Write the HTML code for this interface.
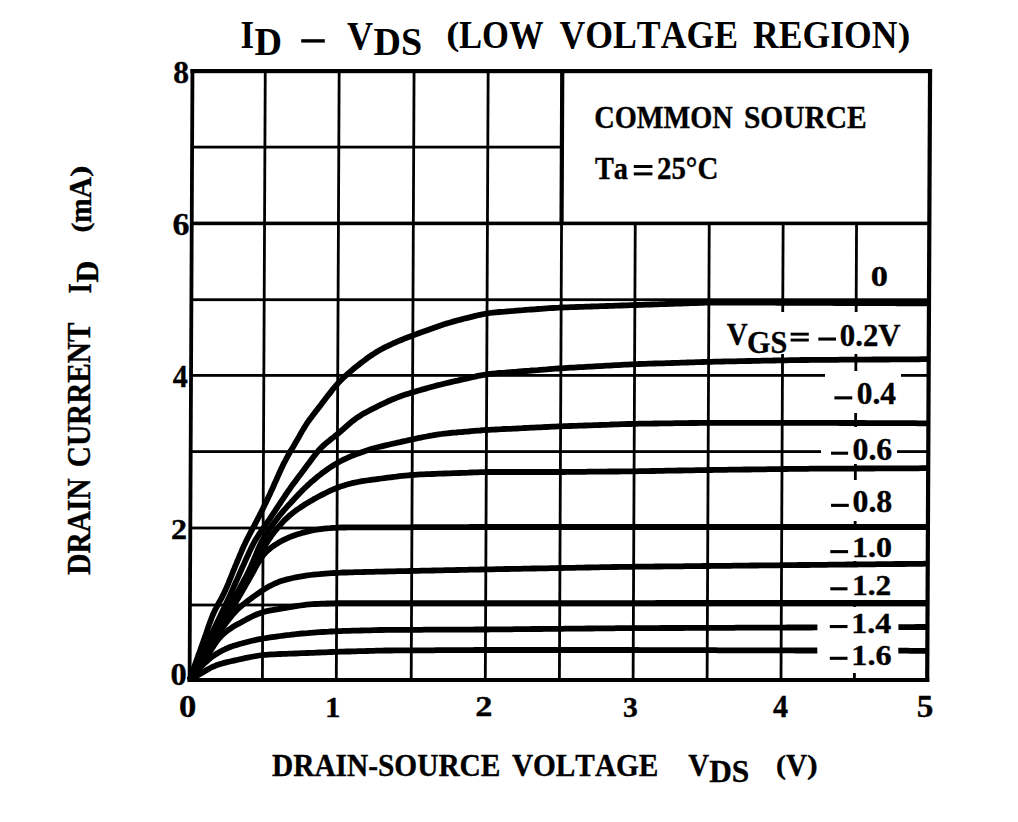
<!DOCTYPE html>
<html><head><meta charset="utf-8"><style>
html,body{margin:0;padding:0;background:#fff;}
svg{display:block;}
text{font-kerning:none;}
</style></head><body>
<svg width="1018" height="822" viewBox="0 0 1018 822">
<defs><clipPath id="plotclip"><rect x="186" y="60" width="742.5" height="622"/></clipPath></defs>
<rect width="1018" height="822" fill="#fff"/>
<path d="M263.86,71.10 L266.66,71.10 L263.80,680.00 L261.00,680.00Z" fill="#000"/>
<path d="M337.76,71.10 L340.56,71.10 L337.70,680.00 L334.90,680.00Z" fill="#000"/>
<path d="M412.66,71.10 L415.46,71.10 L412.60,680.00 L409.80,680.00Z" fill="#000"/>
<path d="M486.76,71.10 L489.56,71.10 L486.70,680.00 L483.90,680.00Z" fill="#000"/>
<path d="M560.86,71.10 L563.66,71.10 L560.80,680.00 L558.00,680.00Z" fill="#000"/>
<path d="M633.85,223.40 L636.65,223.40 L634.50,680.00 L631.70,680.00Z" fill="#000"/>
<path d="M707.85,223.40 L710.65,223.40 L708.50,680.00 L705.70,680.00Z" fill="#000"/>
<path d="M781.75,223.40 L784.55,223.40 L782.40,680.00 L779.60,680.00Z" fill="#000"/>
<path d="M855.15,223.40 L857.95,223.40 L855.80,680.00 L853.00,680.00Z" fill="#000"/>
<path d="M560.16,71.10 L564.36,71.10 L563.65,223.40 L559.45,223.40Z" fill="#000"/>
<rect x="192.10" y="145.70" width="369.80" height="2.80" fill="#000"/>
<rect x="191.75" y="221.60" width="737.60" height="3.60" fill="#000"/>
<rect x="191.39" y="298.30" width="737.60" height="2.80" fill="#000"/>
<rect x="191.03" y="374.00" width="737.60" height="2.80" fill="#000"/>
<rect x="190.67" y="450.20" width="737.60" height="2.80" fill="#000"/>
<rect x="190.31" y="526.60" width="737.60" height="2.80" fill="#000"/>
<rect x="189.95" y="603.60" width="737.60" height="2.80" fill="#000"/>
<rect x="712.00" y="312.00" width="213.00" height="42.00" fill="#fff"/>
<rect x="825.00" y="371.00" width="76.00" height="42.00" fill="#fff"/>
<rect x="821.00" y="427.00" width="76.00" height="37.00" fill="#fff"/>
<rect x="815.00" y="480.00" width="110.00" height="41.00" fill="#fff"/>
<rect x="815.00" y="530.00" width="110.00" height="31.00" fill="#fff"/>
<rect x="815.00" y="567.00" width="110.00" height="33.00" fill="#fff"/>
<rect x="815.00" y="607.00" width="110.00" height="66.00" fill="#fff"/>
<path d="M190.57,69.10 L194.37,69.10 L191.49,682.00 L187.69,682.00Z" fill="#000"/>
<path d="M927.97,69.10 L932.17,69.10 L929.29,682.00 L925.09,682.00Z" fill="#000"/>
<rect x="190.46" y="69.00" width="741.60" height="4.20" fill="#000"/>
<rect x="187.60" y="678.00" width="741.60" height="4.00" fill="#000"/>
<path d="M189.6,680.0 L190.6,677.2 L191.6,674.3 L192.6,671.5 L193.6,668.7 L194.6,665.9 L195.6,663.0 L196.6,660.2 L197.6,657.4 L198.6,654.6 L199.7,651.7 L200.7,648.9 L201.7,646.1 L202.7,643.3 L203.7,640.4 L204.7,637.6 L205.7,634.8 L206.7,631.9 L207.6,629.1 L208.6,626.3 L209.6,623.4 L210.7,620.6 L211.7,617.8 L212.8,615.0 L214.0,612.3 L215.3,609.6 L216.7,607.0 L218.1,604.3 L219.5,601.7 L221.0,599.1 L222.4,596.4 L223.7,593.8 L225.0,591.1 L226.2,588.4 L227.4,585.6 L228.6,582.8 L229.7,580.0 L230.8,577.3 L231.9,574.5 L233.0,571.7 L234.2,568.9 L235.3,566.1 L236.5,563.4 L237.6,560.6 L238.8,557.8 L239.9,555.1 L241.1,552.3 L242.3,549.5 L243.5,546.8 L244.8,544.1 L246.0,541.4 L247.4,538.7 L248.7,536.0 L250.1,533.4 L251.5,530.7 L252.9,528.1 L254.4,525.4 L255.7,522.8 L257.1,520.1 L258.5,517.4 L259.8,514.7 L261.2,512.1 L262.5,509.4 L263.8,506.7 L265.2,504.0 L266.5,501.3 L267.8,498.6 L269.0,495.9 L270.3,493.2 L271.5,490.4 L272.8,487.7 L274.0,485.0 L275.2,482.2 L276.5,479.5 L277.7,476.7 L278.9,474.0 L280.1,471.3 L281.4,468.5 L282.7,465.8 L284.0,463.1 L285.4,460.5 L286.8,457.8 L288.2,455.2 L289.7,452.6 L291.2,450.0 L292.8,447.4 L294.3,444.9 L295.8,442.3 L297.3,439.7 L298.8,437.1 L300.3,434.4 L301.7,431.8 L303.3,429.3 L304.8,426.7 L306.4,424.2 L308.1,421.7 L309.8,419.3 L311.6,416.9 L313.4,414.5 L315.3,412.1 L317.1,409.7 L318.9,407.4 L320.8,405.0 L322.6,402.6 L324.4,400.2 L326.2,397.8 L328.1,395.4 L329.9,393.1 L331.7,390.7 L333.6,388.3 L335.5,386.1 L337.5,383.8 L339.5,381.6 L341.6,379.5 L343.8,377.4 L346.0,375.4 L348.2,373.4 L350.5,371.4 L352.8,369.5 L355.1,367.6 L357.5,365.7 L359.8,363.9 L362.2,362.0 L364.6,360.2 L367.0,358.4 L369.4,356.7 L371.9,355.0 L374.4,353.4 L376.9,351.8 L379.5,350.3 L382.2,348.8 L384.8,347.4 L387.5,346.1 L390.2,344.8 L392.9,343.5 L395.6,342.3 L398.4,341.1 L401.2,340.0 L403.9,338.9 L406.7,337.8 L409.5,336.7 L412.4,335.6 L415.2,334.6 L418.0,333.5 L420.8,332.5 L423.6,331.5 L426.5,330.5 L429.3,329.5 L432.1,328.5 L434.9,327.5 L437.8,326.5 L440.6,325.5 L443.4,324.6 L446.3,323.6 L449.2,322.8 L452.0,321.9 L454.9,321.1 L457.8,320.3 L460.7,319.6 L463.6,318.8 L466.5,318.1 L469.5,317.4 L472.4,316.6 L475.3,315.9 L478.2,315.2 L481.1,314.6 L484.0,314.0 L487.0,313.4 L489.9,313.0 L492.9,312.6 L495.9,312.3 L498.9,312.0 L501.9,311.8 L504.9,311.6 L507.8,311.3 L510.8,311.1 L513.8,310.9 L516.8,310.6 L519.8,310.4 L522.8,310.2 L525.8,309.9 L528.8,309.7 L531.8,309.5 L534.8,309.3 L537.8,309.0 L540.8,308.8 L543.8,308.6 L546.7,308.4 L549.7,308.2 L552.7,308.0 L555.7,307.8 L558.7,307.7 L561.7,307.5 L564.7,307.4 L567.7,307.3 L570.7,307.2 L573.7,307.1 L576.7,307.0 L579.7,306.9 L582.7,306.8 L585.7,306.7 L588.7,306.6 L591.7,306.5 L594.7,306.4 L597.7,306.3 L600.7,306.2 L603.7,306.1 L606.7,306.0 L609.7,305.9 L612.7,305.8 L615.7,305.7 L618.7,305.6 L621.7,305.5 L624.7,305.4 L627.7,305.3 L630.7,305.2 L633.7,305.1 L636.7,305.0 L639.7,304.9 L642.7,304.8 L645.7,304.7 L648.7,304.6 L651.7,304.5 L654.7,304.4 L657.7,304.3 L660.7,304.2 L663.7,304.1 L666.7,304.0 L669.7,303.9 L672.7,303.8 L675.7,303.7 L678.6,303.6 L681.6,303.5 L684.6,303.4 L687.6,303.3 L690.6,303.2 L693.6,303.1 L696.6,303.0 L699.6,302.9 L702.6,302.8 L705.6,302.7 L708.6,302.7 L711.6,302.6 L714.6,302.6 L717.6,302.6 L720.6,302.6 L723.6,302.6 L726.6,302.6 L729.6,302.6 L732.6,302.6 L735.6,302.7 L738.6,302.7 L741.6,302.7 L744.6,302.7 L747.6,302.7 L750.6,302.7 L753.6,302.7 L756.6,302.7 L759.6,302.7 L762.6,302.7 L765.6,302.7 L768.6,302.7 L771.6,302.7 L774.6,302.7 L777.6,302.8 L780.6,302.8 L783.6,302.8 L786.6,302.8 L789.6,302.8 L792.6,302.8 L795.6,302.8 L798.6,302.8 L801.6,302.8 L804.6,302.8 L807.6,302.8 L810.6,302.8 L813.6,302.9 L816.6,302.9 L819.6,302.9 L822.6,302.9 L825.6,302.9 L828.6,302.9 L831.6,302.9 L834.6,303.0 L837.6,303.0 L840.6,303.0 L843.6,303.0 L846.6,303.0 L849.6,303.0 L852.6,303.0 L855.6,303.1 L858.6,303.1 L861.6,303.1 L864.6,303.1 L867.6,303.1 L870.6,303.1 L873.6,303.1 L876.6,303.2 L879.6,303.2 L882.6,303.2 L885.6,303.2 L888.6,303.2 L891.6,303.2 L894.6,303.2 L897.6,303.3 L900.6,303.3 L903.6,303.3 L906.6,303.3 L909.6,303.3 L912.6,303.3 L915.6,303.3 L918.6,303.4 L921.6,303.4 L924.6,303.4 L927.6,303.4 L928.6,303.4" fill="none" stroke="#000" stroke-width="5.8" stroke-linejoin="round" stroke-linecap="butt" clip-path="url(#plotclip)"/>
<path d="M189.6,680.0 L190.9,677.3 L192.2,674.6 L193.5,671.9 L194.8,669.2 L196.1,666.5 L197.4,663.8 L198.7,661.1 L200.0,658.3 L201.2,655.6 L202.5,652.9 L203.8,650.2 L205.1,647.5 L206.4,644.8 L207.7,642.1 L209.0,639.4 L210.3,636.7 L211.6,634.0 L212.9,631.3 L214.2,628.6 L215.5,625.9 L216.8,623.2 L218.1,620.5 L219.4,617.8 L220.7,615.0 L222.0,612.3 L223.3,609.6 L224.6,606.9 L225.8,604.2 L227.1,601.5 L228.4,598.8 L229.7,596.1 L230.9,593.3 L232.1,590.6 L233.3,587.9 L234.5,585.1 L235.7,582.4 L237.0,579.6 L238.2,576.9 L239.4,574.1 L240.6,571.4 L241.8,568.6 L243.0,565.9 L244.3,563.2 L245.5,560.4 L246.7,557.7 L248.0,555.0 L249.2,552.2 L250.5,549.5 L251.8,546.8 L253.2,544.2 L254.6,541.5 L256.1,539.0 L257.7,536.4 L259.3,533.9 L261.0,531.4 L262.7,529.0 L264.4,526.5 L266.1,524.0 L267.9,521.6 L269.6,519.1 L271.2,516.6 L272.9,514.1 L274.6,511.6 L276.2,509.1 L277.8,506.6 L279.5,504.1 L281.1,501.6 L282.8,499.1 L284.5,496.6 L286.1,494.1 L287.8,491.6 L289.6,489.2 L291.3,486.7 L293.0,484.3 L294.8,481.9 L296.6,479.5 L298.4,477.0 L300.2,474.7 L302.0,472.3 L303.8,469.9 L305.6,467.5 L307.4,465.1 L309.2,462.7 L311.0,460.2 L312.8,457.8 L314.6,455.4 L316.4,453.1 L318.3,450.8 L320.3,448.6 L322.4,446.5 L324.6,444.5 L326.9,442.6 L329.2,440.7 L331.5,438.8 L333.9,437.0 L336.2,435.1 L338.5,433.2 L340.8,431.2 L343.1,429.2 L345.3,427.3 L347.6,425.3 L349.9,423.3 L352.1,421.4 L354.5,419.6 L356.9,417.8 L359.4,416.2 L361.9,414.6 L364.5,413.1 L367.2,411.7 L369.8,410.3 L372.5,408.9 L375.2,407.6 L377.8,406.2 L380.5,404.9 L383.2,403.6 L385.9,402.3 L388.7,401.0 L391.4,399.8 L394.2,398.7 L396.9,397.6 L399.8,396.5 L402.6,395.5 L405.4,394.6 L408.3,393.7 L411.2,392.8 L414.0,391.9 L416.9,391.1 L419.8,390.2 L422.7,389.4 L425.6,388.6 L428.4,387.8 L431.3,387.0 L434.2,386.2 L437.1,385.4 L440.0,384.7 L443.0,384.0 L445.9,383.3 L448.8,382.6 L451.7,381.9 L454.6,381.2 L457.6,380.6 L460.5,379.9 L463.4,379.2 L466.3,378.6 L469.3,377.9 L472.2,377.2 L475.1,376.6 L478.0,375.9 L481.0,375.3 L483.9,374.8 L486.9,374.3 L489.8,373.9 L492.8,373.6 L495.8,373.3 L498.8,373.0 L501.8,372.8 L504.8,372.6 L507.8,372.3 L510.8,372.1 L513.7,371.9 L516.7,371.7 L519.7,371.4 L522.7,371.2 L525.7,371.0 L528.7,370.8 L531.7,370.5 L534.7,370.3 L537.7,370.1 L540.7,369.8 L543.7,369.6 L546.6,369.4 L549.6,369.1 L552.6,368.9 L555.6,368.7 L558.6,368.5 L561.6,368.3 L564.6,368.1 L567.6,367.9 L570.6,367.7 L573.6,367.6 L576.6,367.4 L579.6,367.2 L582.6,367.1 L585.6,366.9 L588.6,366.7 L591.6,366.6 L594.6,366.4 L597.6,366.2 L600.5,366.1 L603.5,365.9 L606.5,365.7 L609.5,365.6 L612.5,365.4 L615.5,365.2 L618.5,365.1 L621.5,364.9 L624.5,364.7 L627.5,364.6 L630.5,364.4 L633.5,364.3 L636.5,364.2 L639.5,364.0 L642.5,363.9 L645.5,363.8 L648.5,363.7 L651.5,363.6 L654.5,363.5 L657.5,363.4 L660.5,363.3 L663.5,363.3 L666.5,363.2 L669.5,363.1 L672.5,363.0 L675.5,362.9 L678.5,362.8 L681.5,362.7 L684.5,362.6 L687.5,362.5 L690.5,362.4 L693.5,362.3 L696.5,362.2 L699.5,362.1 L702.5,362.0 L705.5,361.9 L708.5,361.8 L711.5,361.8 L714.5,361.7 L717.5,361.6 L720.5,361.6 L723.5,361.5 L726.5,361.4 L729.5,361.4 L732.5,361.3 L735.4,361.3 L738.4,361.2 L741.4,361.2 L744.4,361.1 L747.4,361.0 L750.4,361.0 L753.4,360.9 L756.4,360.9 L759.4,360.8 L762.4,360.7 L765.4,360.7 L768.4,360.6 L771.4,360.6 L774.4,360.5 L777.4,360.4 L780.4,360.4 L783.4,360.3 L786.4,360.3 L789.4,360.2 L792.4,360.1 L795.4,360.1 L798.4,360.1 L801.4,360.0 L804.4,360.0 L807.4,360.0 L810.4,359.9 L813.4,359.9 L816.4,359.9 L819.4,359.9 L822.4,359.9 L825.4,359.8 L828.4,359.8 L831.4,359.8 L834.4,359.8 L837.4,359.8 L840.4,359.7 L843.4,359.7 L846.4,359.7 L849.4,359.7 L852.4,359.7 L855.4,359.7 L858.4,359.6 L861.4,359.6 L864.4,359.6 L867.4,359.6 L870.4,359.6 L873.4,359.5 L876.4,359.5 L879.4,359.5 L882.4,359.5 L885.4,359.5 L888.4,359.5 L891.4,359.4 L894.4,359.4 L897.4,359.4 L900.4,359.4 L903.4,359.4 L906.4,359.3 L909.4,359.3 L912.4,359.3 L915.4,359.3 L918.4,359.3 L921.4,359.2 L924.4,359.2 L927.4,359.2 L928.4,359.2" fill="none" stroke="#000" stroke-width="5.8" stroke-linejoin="round" stroke-linecap="butt" clip-path="url(#plotclip)"/>
<path d="M189.6,680.0 L191.0,677.4 L192.5,674.7 L193.9,672.1 L195.3,669.5 L196.8,666.8 L198.2,664.2 L199.7,661.6 L201.1,658.9 L202.5,656.3 L204.0,653.7 L205.4,651.0 L206.8,648.4 L208.3,645.8 L209.7,643.1 L211.2,640.5 L212.6,637.9 L214.0,635.2 L215.5,632.6 L216.9,630.0 L218.3,627.3 L219.8,624.7 L221.2,622.1 L222.7,619.4 L224.1,616.8 L225.5,614.2 L227.0,611.5 L228.4,608.9 L229.9,606.3 L231.3,603.6 L232.7,601.0 L234.2,598.4 L235.6,595.7 L237.0,593.1 L238.5,590.5 L239.9,587.8 L241.3,585.2 L242.8,582.6 L244.2,579.9 L245.6,577.3 L247.0,574.6 L248.3,571.9 L249.6,569.2 L250.9,566.5 L252.1,563.8 L253.3,561.0 L254.4,558.2 L255.6,555.5 L256.7,552.7 L257.8,549.9 L259.0,547.2 L260.3,544.5 L261.6,541.8 L263.1,539.2 L264.6,536.6 L266.2,534.1 L267.8,531.6 L269.5,529.1 L271.2,526.6 L273.0,524.2 L274.8,521.8 L276.6,519.4 L278.4,517.0 L280.3,514.7 L282.2,512.4 L284.1,510.1 L286.1,507.9 L288.1,505.6 L290.2,503.4 L292.2,501.2 L294.2,499.0 L296.3,496.8 L298.3,494.6 L300.4,492.5 L302.5,490.3 L304.6,488.2 L306.8,486.2 L309.0,484.1 L311.2,482.1 L313.5,480.2 L315.8,478.2 L318.1,476.3 L320.5,474.5 L322.8,472.6 L325.3,470.8 L327.7,469.1 L330.2,467.4 L332.7,465.8 L335.2,464.2 L337.8,462.7 L340.4,461.3 L343.1,459.9 L345.8,458.6 L348.5,457.4 L351.3,456.2 L354.1,455.0 L356.8,453.9 L359.7,452.9 L362.5,451.9 L365.3,450.9 L368.2,450.0 L371.0,449.1 L373.9,448.3 L376.8,447.5 L379.7,446.8 L382.6,446.1 L385.6,445.4 L388.5,444.7 L391.4,444.0 L394.3,443.4 L397.3,442.7 L400.2,442.1 L403.1,441.4 L406.0,440.8 L409.0,440.1 L411.9,439.5 L414.8,438.9 L417.8,438.2 L420.7,437.6 L423.7,437.0 L426.6,436.5 L429.6,435.9 L432.5,435.4 L435.5,434.8 L438.4,434.4 L441.4,434.0 L444.4,433.6 L447.3,433.3 L450.3,433.0 L453.3,432.7 L456.3,432.5 L459.3,432.2 L462.3,432.0 L465.3,431.7 L468.3,431.5 L471.2,431.2 L474.2,430.9 L477.2,430.7 L480.2,430.5 L483.2,430.2 L486.2,430.0 L489.2,429.8 L492.2,429.6 L495.2,429.5 L498.2,429.3 L501.2,429.2 L504.2,429.0 L507.2,428.9 L510.2,428.8 L513.2,428.6 L516.2,428.5 L519.2,428.3 L522.1,428.2 L525.1,428.0 L528.1,427.9 L531.1,427.7 L534.1,427.6 L537.1,427.4 L540.1,427.3 L543.1,427.1 L546.1,427.0 L549.1,426.9 L552.1,426.7 L555.1,426.6 L558.1,426.4 L561.1,426.3 L564.1,426.2 L567.1,426.1 L570.1,426.0 L573.1,425.9 L576.1,425.8 L579.1,425.7 L582.1,425.6 L585.1,425.5 L588.1,425.4 L591.1,425.3 L594.1,425.2 L597.1,425.1 L600.1,425.0 L603.1,424.9 L606.1,424.8 L609.1,424.7 L612.1,424.5 L615.1,424.4 L618.1,424.3 L621.1,424.2 L624.1,424.1 L627.1,424.0 L630.1,424.0 L633.1,423.9 L636.1,423.8 L639.1,423.7 L642.1,423.7 L645.1,423.6 L648.1,423.6 L651.1,423.6 L654.1,423.5 L657.1,423.5 L660.1,423.4 L663.1,423.4 L666.1,423.4 L669.1,423.3 L672.1,423.3 L675.1,423.2 L678.1,423.2 L681.1,423.2 L684.1,423.1 L687.1,423.1 L690.1,423.0 L693.1,423.0 L696.1,423.0 L699.1,422.9 L702.1,422.9 L705.1,422.9 L708.1,422.8 L711.1,422.8 L714.1,422.8 L717.1,422.8 L720.1,422.8 L723.1,422.8 L726.1,422.8 L729.1,422.8 L732.1,422.8 L735.1,422.8 L738.1,422.8 L741.1,422.8 L744.1,422.8 L747.1,422.8 L750.1,422.8 L753.1,422.8 L756.1,422.8 L759.1,422.8 L762.1,422.8 L765.1,422.8 L768.1,422.8 L771.1,422.8 L774.1,422.8 L777.1,422.8 L780.1,422.8 L783.1,422.8 L786.1,422.8 L789.1,422.8 L792.1,422.8 L795.1,422.8 L798.1,422.8 L801.1,422.8 L804.1,422.8 L807.1,422.8 L810.1,422.8 L813.1,422.8 L816.1,422.9 L819.1,422.9 L822.1,422.9 L825.1,422.9 L828.1,422.9 L831.1,422.9 L834.1,422.9 L837.1,422.9 L840.1,423.0 L843.1,423.0 L846.1,423.0 L849.1,423.0 L852.1,423.0 L855.1,423.0 L858.1,423.0 L861.1,423.0 L864.1,423.0 L867.1,423.1 L870.1,423.1 L873.1,423.1 L876.1,423.1 L879.1,423.1 L882.1,423.1 L885.1,423.1 L888.1,423.1 L891.1,423.2 L894.1,423.2 L897.1,423.2 L900.1,423.2 L903.1,423.2 L906.1,423.2 L909.1,423.2 L912.1,423.2 L915.1,423.2 L918.1,423.3 L921.1,423.3 L924.1,423.3 L927.1,423.3 L928.1,423.3" fill="none" stroke="#000" stroke-width="5.8" stroke-linejoin="round" stroke-linecap="butt" clip-path="url(#plotclip)"/>
<path d="M189.6,680.0 L191.1,677.4 L192.6,674.8 L194.1,672.2 L195.6,669.6 L197.1,667.0 L198.6,664.4 L200.2,661.8 L201.7,659.2 L203.2,656.7 L204.7,654.1 L206.2,651.5 L207.7,648.9 L209.2,646.3 L210.7,643.7 L212.2,641.1 L213.7,638.5 L215.2,635.9 L216.7,633.3 L218.2,630.7 L219.7,628.1 L221.3,625.5 L222.8,622.9 L224.3,620.3 L225.8,617.8 L227.3,615.2 L228.8,612.6 L230.3,610.0 L231.8,607.4 L233.3,604.8 L234.8,602.2 L236.3,599.6 L237.8,597.0 L239.3,594.4 L240.7,591.7 L242.2,589.1 L243.6,586.5 L245.0,583.8 L246.5,581.2 L247.9,578.6 L249.3,575.9 L250.7,573.3 L252.1,570.6 L253.5,568.0 L254.9,565.3 L256.3,562.6 L257.6,560.0 L259.0,557.3 L260.4,554.6 L261.7,551.9 L263.1,549.3 L264.5,546.6 L266.0,544.1 L267.6,541.5 L269.2,539.0 L270.9,536.5 L272.7,534.1 L274.5,531.8 L276.4,529.4 L278.3,527.1 L280.3,524.8 L282.3,522.6 L284.3,520.4 L286.5,518.3 L288.7,516.3 L290.9,514.4 L293.3,512.5 L295.7,510.7 L298.1,509.0 L300.6,507.3 L303.1,505.7 L305.6,504.0 L308.2,502.5 L310.8,500.9 L313.4,499.4 L316.0,498.0 L318.6,496.5 L321.3,495.1 L323.9,493.8 L326.6,492.5 L329.3,491.2 L332.1,489.9 L334.8,488.8 L337.6,487.7 L340.4,486.6 L343.3,485.7 L346.1,484.8 L349.0,484.0 L351.9,483.2 L354.8,482.6 L357.8,482.0 L360.7,481.4 L363.7,480.9 L366.6,480.5 L369.6,480.1 L372.6,479.7 L375.6,479.3 L378.5,478.9 L381.5,478.5 L384.5,478.1 L387.5,477.7 L390.4,477.3 L393.4,477.0 L396.4,476.6 L399.4,476.2 L402.3,475.9 L405.3,475.6 L408.3,475.3 L411.3,475.0 L414.3,474.8 L417.3,474.6 L420.3,474.4 L423.3,474.3 L426.3,474.2 L429.3,474.1 L432.3,474.0 L435.3,473.9 L438.3,473.7 L441.3,473.6 L444.3,473.5 L447.3,473.4 L450.2,473.3 L453.2,473.2 L456.2,473.1 L459.2,473.0 L462.2,472.9 L465.2,472.8 L468.2,472.7 L471.2,472.5 L474.2,472.4 L477.2,472.3 L480.2,472.2 L483.2,472.2 L486.2,472.1 L489.2,472.0 L492.2,472.0 L495.2,472.0 L498.2,472.0 L501.2,472.0 L504.2,472.0 L507.2,472.0 L510.2,472.0 L513.2,472.0 L516.2,472.0 L519.2,472.0 L522.2,472.0 L525.2,472.0 L528.2,472.0 L531.2,472.0 L534.2,472.0 L537.2,472.0 L540.2,472.0 L543.2,472.0 L546.2,472.0 L549.2,472.0 L552.2,472.0 L555.2,472.0 L558.2,472.0 L561.2,472.0 L564.2,472.0 L567.2,471.9 L570.2,471.9 L573.2,471.9 L576.2,471.9 L579.2,471.8 L582.2,471.8 L585.2,471.8 L588.2,471.7 L591.2,471.7 L594.2,471.7 L597.2,471.7 L600.2,471.6 L603.2,471.6 L606.2,471.6 L609.2,471.5 L612.2,471.5 L615.2,471.5 L618.2,471.5 L621.2,471.4 L624.2,471.4 L627.2,471.4 L630.2,471.3 L633.2,471.3 L636.2,471.3 L639.2,471.2 L642.2,471.2 L645.2,471.1 L648.2,471.1 L651.2,471.0 L654.2,471.0 L657.2,470.9 L660.2,470.8 L663.2,470.8 L666.2,470.7 L669.2,470.7 L672.2,470.6 L675.2,470.6 L678.2,470.5 L681.2,470.5 L684.2,470.4 L687.2,470.4 L690.2,470.3 L693.2,470.3 L696.2,470.2 L699.2,470.2 L702.2,470.1 L705.2,470.1 L708.2,470.0 L711.2,470.0 L714.2,469.9 L717.2,469.9 L720.2,469.8 L723.2,469.8 L726.2,469.8 L729.2,469.7 L732.2,469.7 L735.2,469.6 L738.2,469.6 L741.2,469.6 L744.2,469.5 L747.2,469.5 L750.2,469.5 L753.2,469.4 L756.2,469.4 L759.2,469.3 L762.2,469.3 L765.2,469.3 L768.2,469.2 L771.2,469.2 L774.2,469.1 L777.2,469.1 L780.2,469.1 L783.2,469.0 L786.2,469.0 L789.2,468.9 L792.2,468.9 L795.2,468.9 L798.2,468.8 L801.2,468.8 L804.2,468.8 L807.2,468.8 L810.2,468.7 L813.2,468.7 L816.2,468.7 L819.2,468.7 L822.2,468.7 L825.2,468.7 L828.2,468.7 L831.2,468.7 L834.2,468.6 L837.2,468.6 L840.2,468.6 L843.2,468.6 L846.2,468.6 L849.2,468.6 L852.2,468.6 L855.2,468.5 L858.2,468.5 L861.2,468.5 L864.2,468.5 L867.2,468.5 L870.2,468.5 L873.2,468.5 L876.2,468.4 L879.2,468.4 L882.2,468.4 L885.2,468.4 L888.2,468.4 L891.2,468.4 L894.2,468.4 L897.2,468.3 L900.2,468.3 L903.2,468.3 L906.2,468.3 L909.2,468.3 L912.2,468.3 L915.2,468.3 L918.2,468.3 L921.2,468.2 L924.2,468.2 L927.2,468.2 L928.2,468.2" fill="none" stroke="#000" stroke-width="5.8" stroke-linejoin="round" stroke-linecap="butt" clip-path="url(#plotclip)"/>
<path d="M189.6,680.0 L191.1,677.4 L192.7,674.8 L194.2,672.3 L195.7,669.7 L197.3,667.1 L198.8,664.5 L200.3,661.9 L201.8,659.4 L203.4,656.8 L204.9,654.2 L206.4,651.6 L208.0,649.0 L209.5,646.5 L211.0,643.9 L212.6,641.3 L214.1,638.7 L215.6,636.1 L217.1,633.6 L218.7,631.0 L220.2,628.4 L221.7,625.8 L223.3,623.2 L224.8,620.6 L226.3,618.1 L227.9,615.5 L229.4,612.9 L230.9,610.3 L232.4,607.7 L234.0,605.2 L235.5,602.6 L237.0,600.0 L238.6,597.4 L240.1,594.8 L241.6,592.2 L243.1,589.6 L244.6,587.0 L246.1,584.4 L247.6,581.8 L249.1,579.2 L250.5,576.6 L252.0,574.0 L253.5,571.3 L254.9,568.7 L256.3,566.1 L257.8,563.4 L259.3,560.9 L260.9,558.4 L262.6,556.0 L264.5,553.7 L266.5,551.6 L268.7,549.6 L271.0,547.8 L273.4,546.0 L275.9,544.4 L278.4,542.8 L281.0,541.3 L283.7,539.9 L286.4,538.6 L289.1,537.4 L291.9,536.3 L294.7,535.3 L297.6,534.3 L300.4,533.5 L303.3,532.6 L306.2,531.9 L309.1,531.2 L312.0,530.5 L315.0,530.0 L317.9,529.5 L320.9,529.1 L323.9,528.7 L326.9,528.4 L329.8,528.2 L332.8,527.9 L335.8,527.8 L338.8,527.6 L341.8,527.5 L344.8,527.5 L347.8,527.4 L350.8,527.4 L353.8,527.4 L356.8,527.4 L359.8,527.4 L362.8,527.4 L365.8,527.4 L368.8,527.4 L371.8,527.4 L374.8,527.4 L377.8,527.4 L380.8,527.4 L383.8,527.3 L386.8,527.3 L389.8,527.3 L392.8,527.3 L395.8,527.3 L398.8,527.3 L401.8,527.3 L404.8,527.3 L407.8,527.3 L410.8,527.3 L413.8,527.2 L416.8,527.2 L419.8,527.2 L422.8,527.2 L425.8,527.2 L428.8,527.2 L431.8,527.2 L434.8,527.2 L437.8,527.2 L440.8,527.1 L443.8,527.1 L446.8,527.1 L449.8,527.1 L452.8,527.1 L455.8,527.1 L458.8,527.1 L461.8,527.1 L464.8,527.1 L467.8,527.1 L470.8,527.0 L473.8,527.0 L476.8,527.0 L479.8,527.0 L482.8,527.0 L485.8,527.0 L488.8,527.0 L491.8,527.0 L494.8,527.0 L497.8,527.0 L500.8,527.0 L503.8,527.0 L506.8,527.0 L509.8,527.0 L512.8,527.0 L515.8,527.0 L518.8,527.0 L521.8,527.0 L524.8,527.0 L527.8,527.0 L530.8,527.0 L533.8,527.0 L536.8,527.0 L539.8,527.0 L542.8,527.0 L545.8,527.0 L548.8,527.0 L551.8,527.0 L554.8,527.0 L557.8,527.0 L560.8,527.0 L563.8,527.0 L566.8,527.0 L569.8,527.0 L572.8,527.0 L575.8,527.0 L578.8,527.0 L581.8,527.0 L584.8,527.0 L587.8,527.0 L590.8,527.0 L593.8,527.0 L596.8,527.0 L599.8,527.0 L602.8,527.0 L605.8,527.0 L608.8,527.0 L611.8,527.0 L614.8,527.0 L617.8,527.0 L620.8,527.0 L623.8,527.0 L626.8,527.0 L629.8,527.0 L632.8,527.0 L635.8,527.0 L638.8,527.0 L641.8,527.0 L644.8,527.0 L647.8,527.0 L650.8,527.0 L653.8,527.0 L656.8,527.0 L659.8,527.0 L662.8,527.0 L665.8,527.0 L668.8,527.0 L671.8,527.0 L674.8,527.0 L677.8,527.0 L680.8,527.0 L683.8,527.0 L686.8,527.0 L689.8,527.0 L692.8,527.0 L695.8,527.0 L698.8,527.0 L701.8,527.0 L704.8,527.0 L707.8,527.0 L710.8,527.0 L713.8,527.0 L716.8,527.0 L719.8,527.0 L722.8,527.0 L725.8,527.0 L728.8,527.0 L731.8,527.0 L734.8,527.0 L737.8,527.0 L740.8,527.0 L743.8,527.0 L746.8,527.0 L749.8,527.0 L752.8,527.0 L755.8,527.0 L758.8,527.0 L761.8,527.0 L764.8,527.0 L767.8,527.0 L770.8,527.0 L773.8,527.0 L776.8,527.0 L779.8,527.0 L782.8,527.0 L785.8,527.0 L788.8,527.0 L791.8,527.0 L794.8,527.0 L797.8,527.0 L800.8,527.0 L803.8,527.0 L806.8,527.0 L809.8,527.0 L812.8,527.0 L815.8,527.0 L818.8,527.0 L821.8,527.0 L824.8,527.0 L827.8,527.0 L830.8,527.0 L833.8,527.0 L836.8,527.0 L839.8,527.0 L842.8,527.0 L845.8,527.0 L848.8,527.0 L851.8,527.0 L854.8,527.0 L857.8,527.0 L860.8,527.0 L863.8,527.0 L866.8,527.0 L869.8,527.0 L872.8,527.0 L875.8,527.0 L878.8,527.0 L881.8,527.0 L884.8,527.0 L887.8,527.0 L890.8,527.0 L893.8,527.0 L896.8,527.0 L899.8,527.0 L902.8,527.0 L905.8,527.0 L908.8,527.0 L911.8,527.0 L914.8,527.0 L917.8,527.0 L920.8,527.0 L923.8,527.0 L926.8,527.0 L928.8,527.0" fill="none" stroke="#000" stroke-width="5.8" stroke-linejoin="round" stroke-linecap="butt" clip-path="url(#plotclip)"/>
<path d="M189.6,680.0 L191.2,677.4 L192.7,674.9 L194.3,672.3 L195.9,669.8 L197.4,667.2 L199.0,664.6 L200.5,662.1 L202.1,659.5 L203.7,657.0 L205.2,654.4 L206.8,651.8 L208.3,649.3 L209.9,646.7 L211.5,644.1 L213.1,641.6 L214.7,639.1 L216.4,636.6 L218.0,634.1 L219.8,631.7 L221.5,629.2 L223.3,626.8 L225.0,624.4 L226.8,621.9 L228.6,619.6 L230.5,617.2 L232.4,614.9 L234.4,612.7 L236.4,610.5 L238.6,608.4 L240.8,606.5 L243.1,604.6 L245.4,602.7 L247.8,600.9 L250.2,599.1 L252.6,597.3 L255.1,595.5 L257.5,593.8 L260.0,592.1 L262.5,590.4 L265.0,588.8 L267.6,587.3 L270.2,585.8 L272.9,584.5 L275.6,583.2 L278.3,582.1 L281.1,581.1 L284.0,580.2 L286.8,579.4 L289.7,578.7 L292.7,578.0 L295.6,577.4 L298.6,576.8 L301.5,576.3 L304.5,575.8 L307.4,575.4 L310.4,575.0 L313.4,574.6 L316.4,574.3 L319.4,574.1 L322.3,573.8 L325.3,573.6 L328.3,573.4 L331.3,573.2 L334.3,573.0 L337.3,572.8 L340.3,572.7 L343.3,572.5 L346.3,572.5 L349.3,572.4 L352.3,572.3 L355.3,572.2 L358.3,572.2 L361.3,572.1 L364.3,572.0 L367.3,571.9 L370.3,571.9 L373.3,571.8 L376.3,571.7 L379.3,571.6 L382.3,571.6 L385.3,571.5 L388.3,571.4 L391.3,571.4 L394.3,571.3 L397.3,571.2 L400.3,571.2 L403.3,571.1 L406.3,571.1 L409.3,571.0 L412.3,570.9 L415.3,570.9 L418.3,570.8 L421.3,570.7 L424.3,570.7 L427.3,570.6 L430.3,570.6 L433.3,570.5 L436.3,570.4 L439.3,570.4 L442.3,570.3 L445.3,570.2 L448.3,570.2 L451.3,570.1 L454.3,570.1 L457.3,570.0 L460.3,569.9 L463.3,569.9 L466.3,569.8 L469.3,569.7 L472.3,569.7 L475.3,569.6 L478.3,569.6 L481.3,569.5 L484.3,569.4 L487.3,569.4 L490.3,569.3 L493.3,569.3 L496.3,569.2 L499.3,569.1 L502.3,569.1 L505.3,569.0 L508.3,569.0 L511.3,568.9 L514.3,568.9 L517.3,568.8 L520.3,568.8 L523.3,568.7 L526.3,568.6 L529.3,568.6 L532.3,568.5 L535.3,568.5 L538.3,568.4 L541.3,568.4 L544.3,568.3 L547.3,568.3 L550.3,568.2 L553.3,568.1 L556.3,568.1 L559.3,568.0 L562.3,568.0 L565.3,567.9 L568.3,567.9 L571.3,567.8 L574.3,567.8 L577.3,567.7 L580.3,567.6 L583.3,567.6 L586.3,567.5 L589.3,567.5 L592.3,567.4 L595.3,567.4 L598.3,567.3 L601.2,567.2 L604.2,567.2 L607.2,567.1 L610.2,567.1 L613.2,567.0 L616.2,567.0 L619.2,566.9 L622.2,566.9 L625.2,566.8 L628.2,566.8 L631.2,566.8 L634.2,566.7 L637.2,566.7 L640.2,566.7 L643.2,566.7 L646.2,566.6 L649.2,566.6 L652.2,566.6 L655.2,566.5 L658.2,566.5 L661.2,566.5 L664.2,566.4 L667.2,566.4 L670.2,566.4 L673.2,566.3 L676.2,566.3 L679.2,566.3 L682.2,566.3 L685.2,566.2 L688.2,566.2 L691.2,566.2 L694.2,566.1 L697.2,566.1 L700.2,566.1 L703.2,566.0 L706.2,566.0 L709.2,566.0 L712.2,565.9 L715.2,565.9 L718.2,565.9 L721.2,565.9 L724.2,565.8 L727.2,565.8 L730.2,565.8 L733.2,565.7 L736.2,565.7 L739.2,565.7 L742.2,565.6 L745.2,565.6 L748.2,565.6 L751.2,565.5 L754.2,565.5 L757.2,565.5 L760.2,565.4 L763.2,565.4 L766.2,565.4 L769.2,565.4 L772.2,565.3 L775.2,565.3 L778.2,565.3 L781.2,565.2 L784.2,565.2 L787.2,565.2 L790.2,565.1 L793.2,565.1 L796.2,565.1 L799.2,565.0 L802.2,565.0 L805.2,565.0 L808.2,565.0 L811.2,564.9 L814.2,564.9 L817.2,564.9 L820.2,564.8 L823.2,564.8 L826.2,564.8 L829.2,564.7 L832.2,564.7 L835.2,564.7 L838.2,564.6 L841.2,564.6 L844.2,564.6 L847.2,564.5 L850.2,564.5 L853.2,564.5 L856.2,564.5 L859.2,564.4 L862.2,564.4 L865.2,564.4 L868.2,564.3 L871.2,564.3 L874.2,564.3 L877.2,564.2 L880.2,564.2 L883.2,564.2 L886.2,564.1 L889.2,564.1 L892.2,564.1 L895.2,564.0 L898.2,564.0 L901.2,564.0 L904.2,564.0 L907.2,563.9 L910.2,563.9 L913.2,563.9 L916.2,563.8 L919.2,563.8 L922.2,563.8 L925.2,563.7 L928.2,563.7 L928.2,563.7" fill="none" stroke="#000" stroke-width="5.8" stroke-linejoin="round" stroke-linecap="butt" clip-path="url(#plotclip)"/>
<path d="M189.6,680.0 L191.4,677.6 L193.3,675.3 L195.1,672.9 L197.0,670.5 L198.8,668.1 L200.6,665.7 L202.3,663.3 L204.1,660.9 L205.8,658.4 L207.4,655.9 L209.0,653.3 L210.6,650.8 L212.2,648.2 L213.8,645.7 L215.5,643.2 L217.2,640.8 L219.0,638.5 L221.0,636.3 L223.1,634.2 L225.3,632.3 L227.7,630.4 L230.1,628.8 L232.6,627.1 L235.2,625.6 L237.8,624.1 L240.5,622.7 L243.1,621.2 L245.8,619.8 L248.4,618.4 L251.1,617.0 L253.8,615.7 L256.5,614.5 L259.3,613.4 L262.1,612.5 L265.0,611.6 L267.9,610.9 L270.8,610.3 L273.7,609.8 L276.7,609.3 L279.7,608.8 L282.6,608.3 L285.6,607.8 L288.6,607.3 L291.5,606.9 L294.5,606.4 L297.4,605.9 L300.4,605.5 L303.4,605.1 L306.3,604.7 L309.3,604.4 L312.3,604.2 L315.3,604.0 L318.3,603.8 L321.3,603.7 L324.3,603.6 L327.3,603.5 L330.3,603.4 L333.3,603.3 L336.3,603.2 L339.3,603.2 L342.3,603.1 L345.3,603.1 L348.3,603.1 L351.3,603.1 L354.3,603.1 L357.3,603.1 L360.3,603.1 L363.3,603.1 L366.3,603.1 L369.3,603.1 L372.3,603.1 L375.3,603.1 L378.3,603.1 L381.3,603.1 L384.3,603.1 L387.3,603.1 L390.3,603.1 L393.3,603.1 L396.3,603.1 L399.3,603.1 L402.3,603.1 L405.3,603.1 L408.3,603.1 L411.3,603.1 L414.3,603.1 L417.3,603.1 L420.3,603.1 L423.3,603.1 L426.3,603.1 L429.3,603.1 L432.3,603.1 L435.3,603.1 L438.3,603.1 L441.3,603.1 L444.3,603.1 L447.3,603.1 L450.3,603.1 L453.3,603.1 L456.3,603.1 L459.3,603.1 L462.3,603.1 L465.3,603.1 L468.3,603.1 L471.3,603.1 L474.3,603.1 L477.3,603.1 L480.3,603.1 L483.3,603.1 L486.3,603.1 L489.3,603.1 L492.3,603.1 L495.3,603.1 L498.3,603.1 L501.3,603.1 L504.3,603.1 L507.3,603.1 L510.3,603.1 L513.3,603.1 L516.3,603.1 L519.3,603.1 L522.3,603.1 L525.3,603.1 L528.3,603.1 L531.3,603.1 L534.3,603.1 L537.3,603.1 L540.3,603.1 L543.3,603.1 L546.3,603.1 L549.3,603.1 L552.3,603.1 L555.3,603.1 L558.3,603.1 L561.3,603.1 L564.3,603.1 L567.3,603.1 L570.3,603.1 L573.3,603.1 L576.3,603.1 L579.3,603.1 L582.3,603.1 L585.3,603.1 L588.3,603.1 L591.3,603.1 L594.3,603.1 L597.3,603.1 L600.3,603.1 L603.3,603.1 L606.3,603.1 L609.3,603.1 L612.3,603.1 L615.3,603.1 L618.3,603.1 L621.3,603.1 L624.3,603.1 L627.3,603.1 L630.3,603.1 L633.3,603.1 L636.3,603.1 L639.3,603.1 L642.3,603.1 L645.3,603.1 L648.3,603.1 L651.3,603.1 L654.3,603.1 L657.3,603.0 L660.3,603.0 L663.3,603.0 L666.3,603.0 L669.3,603.0 L672.3,603.0 L675.3,603.0 L678.3,603.0 L681.3,603.0 L684.3,603.0 L687.3,603.0 L690.3,603.0 L693.3,603.0 L696.3,603.0 L699.3,603.0 L702.3,603.0 L705.3,603.0 L708.3,603.0 L711.3,603.0 L714.3,603.0 L717.3,603.0 L720.3,603.0 L723.3,603.0 L726.3,603.0 L729.3,603.0 L732.3,603.0 L735.3,603.0 L738.3,603.0 L741.3,603.0 L744.3,603.0 L747.3,603.0 L750.3,603.0 L753.3,603.0 L756.3,603.0 L759.3,603.0 L762.3,603.0 L765.3,603.0 L768.3,603.0 L771.3,603.0 L774.3,603.0 L777.3,603.0 L780.3,603.0 L783.3,603.0 L786.3,603.0 L789.3,603.0 L792.3,603.0 L795.3,603.0 L798.3,603.0 L801.3,603.0 L804.3,603.0 L807.3,603.0 L810.3,603.0 L813.3,603.0 L816.3,603.0 L819.3,603.0 L822.3,603.0 L825.3,603.0 L828.3,603.0 L831.3,603.0 L834.3,603.0 L837.3,603.0 L840.3,603.0 L843.3,603.0 L846.3,603.0 L849.3,603.0 L852.3,603.0 L855.3,603.0 L858.3,603.0 L861.3,603.0 L864.3,603.0 L867.3,603.0 L870.3,603.0 L873.3,603.0 L876.3,603.0 L879.3,603.0 L882.3,603.0 L885.3,603.0 L888.3,603.0 L891.3,603.0 L894.3,603.0 L897.3,603.0 L900.3,603.0 L903.3,603.0 L906.3,603.0 L909.3,603.0 L912.3,603.0 L915.3,603.0 L918.3,603.0 L921.3,603.0 L924.3,603.0 L927.3,603.0 L928.3,603.0" fill="none" stroke="#000" stroke-width="5.8" stroke-linejoin="round" stroke-linecap="butt" clip-path="url(#plotclip)"/>
<path d="M189.6,680.0 L191.5,677.7 L193.5,675.4 L195.4,673.1 L197.4,670.9 L199.4,668.6 L201.4,666.4 L203.5,664.2 L205.6,662.2 L207.9,660.2 L210.2,658.3 L212.6,656.5 L215.0,654.8 L217.5,653.2 L220.1,651.7 L222.7,650.3 L225.4,649.0 L228.1,647.8 L230.9,646.7 L233.7,645.8 L236.6,644.9 L239.5,644.0 L242.4,643.3 L245.3,642.5 L248.2,641.7 L251.1,641.0 L254.0,640.3 L256.9,639.7 L259.9,639.1 L262.8,638.5 L265.8,638.1 L268.7,637.6 L271.7,637.2 L274.7,636.8 L277.7,636.4 L280.6,636.0 L283.6,635.6 L286.6,635.2 L289.6,634.9 L292.6,634.5 L295.5,634.2 L298.5,633.8 L301.5,633.5 L304.5,633.3 L307.5,633.1 L310.5,632.8 L313.5,632.6 L316.5,632.4 L319.4,632.2 L322.4,632.0 L325.4,631.8 L328.4,631.7 L331.4,631.5 L334.4,631.3 L337.4,631.2 L340.4,631.1 L343.4,630.9 L346.4,630.9 L349.4,630.8 L352.4,630.7 L355.4,630.6 L358.4,630.6 L361.4,630.5 L364.4,630.4 L367.4,630.3 L370.4,630.3 L373.4,630.2 L376.4,630.1 L379.4,630.0 L382.4,630.0 L385.4,629.9 L388.4,629.9 L391.4,629.9 L394.4,629.9 L397.4,629.8 L400.4,629.8 L403.4,629.8 L406.4,629.8 L409.4,629.8 L412.4,629.8 L415.4,629.8 L418.4,629.8 L421.4,629.8 L424.4,629.7 L427.4,629.7 L430.4,629.7 L433.4,629.7 L436.4,629.7 L439.4,629.7 L442.4,629.7 L445.4,629.7 L448.4,629.6 L451.4,629.6 L454.4,629.6 L457.4,629.6 L460.4,629.6 L463.4,629.6 L466.4,629.6 L469.4,629.6 L472.4,629.6 L475.4,629.5 L478.4,629.5 L481.4,629.5 L484.4,629.5 L487.4,629.5 L490.4,629.4 L493.4,629.4 L496.4,629.4 L499.4,629.4 L502.4,629.3 L505.4,629.3 L508.4,629.3 L511.4,629.3 L514.4,629.2 L517.4,629.2 L520.4,629.2 L523.4,629.1 L526.4,629.1 L529.4,629.1 L532.4,629.0 L535.4,629.0 L538.4,629.0 L541.4,629.0 L544.4,628.9 L547.4,628.9 L550.4,628.9 L553.4,628.8 L556.4,628.8 L559.4,628.8 L562.4,628.8 L565.4,628.7 L568.4,628.7 L571.4,628.7 L574.4,628.6 L577.4,628.6 L580.4,628.6 L583.4,628.6 L586.4,628.5 L589.4,628.5 L592.4,628.5 L595.4,628.4 L598.4,628.4 L601.4,628.4 L604.4,628.3 L607.4,628.3 L610.4,628.3 L613.4,628.3 L616.4,628.2 L619.4,628.2 L622.4,628.2 L625.4,628.2 L628.4,628.2 L631.4,628.2 L634.4,628.1 L637.4,628.1 L640.4,628.1 L643.4,628.1 L646.4,628.1 L649.4,628.1 L652.4,628.1 L655.4,628.1 L658.4,628.1 L661.4,628.0 L664.4,628.0 L667.4,628.0 L670.4,628.0 L673.4,628.0 L676.4,628.0 L679.4,628.0 L682.4,628.0 L685.4,627.9 L688.4,627.9 L691.4,627.9 L694.4,627.9 L697.4,627.9 L700.4,627.9 L703.4,627.9 L706.4,627.9 L709.4,627.9 L712.4,627.8 L715.4,627.8 L718.4,627.8 L721.4,627.8 L724.4,627.8 L727.4,627.8 L730.4,627.8 L733.4,627.8 L736.4,627.7 L739.4,627.7 L742.4,627.7 L745.4,627.7 L748.4,627.7 L751.4,627.7 L754.4,627.7 L757.4,627.7 L760.4,627.7 L763.4,627.6 L766.4,627.6 L769.4,627.6 L772.4,627.6 L775.4,627.6 L778.4,627.6 L781.4,627.6 L784.4,627.6 L787.4,627.5 L790.4,627.5 L793.4,627.5 L796.4,627.5 L799.4,627.5 L802.4,627.5 L805.4,627.5 L808.4,627.5 L811.4,627.5 L814.4,627.4 L817.4,627.4" fill="none" stroke="#000" stroke-width="5.8" stroke-linejoin="round" stroke-linecap="butt" clip-path="url(#plotclip)"/>
<path d="M898.4,627.1 L901.4,627.1 L904.4,627.1 L907.4,627.1 L910.4,627.1 L913.4,627.1 L916.4,627.0 L919.4,627.0 L922.4,627.0 L925.4,627.0 L928.4,627.0 L928.4,627.0" fill="none" stroke="#000" stroke-width="5.8" stroke-linejoin="round" stroke-linecap="butt" clip-path="url(#plotclip)"/>
<path d="M189.6,680.0 L192.2,678.6 L194.9,677.1 L197.4,675.6 L200.0,674.1 L202.6,672.5 L205.1,671.0 L207.7,669.5 L210.3,668.0 L213.0,666.7 L215.7,665.6 L218.5,664.6 L221.3,663.7 L224.2,662.9 L227.1,662.1 L230.0,661.5 L232.9,660.8 L235.9,660.2 L238.8,659.5 L241.7,658.9 L244.7,658.2 L247.6,657.6 L250.6,657.0 L253.5,656.5 L256.5,656.0 L259.4,655.5 L262.4,655.1 L265.4,654.8 L268.3,654.6 L271.3,654.4 L274.3,654.3 L277.3,654.1 L280.3,654.0 L283.3,653.9 L286.3,653.8 L289.3,653.7 L292.3,653.6 L295.3,653.5 L298.3,653.4 L301.3,653.2 L304.3,653.1 L307.3,653.0 L310.3,652.9 L313.3,652.8 L316.3,652.6 L319.3,652.5 L322.3,652.4 L325.3,652.3 L328.3,652.1 L331.3,652.0 L334.3,651.9 L337.3,651.8 L340.3,651.7 L343.3,651.6 L346.3,651.5 L349.3,651.5 L352.3,651.4 L355.3,651.3 L358.3,651.2 L361.3,651.1 L364.3,651.1 L367.3,651.0 L370.3,650.9 L373.3,650.8 L376.3,650.7 L379.3,650.7 L382.3,650.6 L385.3,650.5 L388.3,650.5 L391.3,650.5 L394.3,650.4 L397.3,650.4 L400.3,650.4 L403.3,650.4 L406.3,650.4 L409.3,650.4 L412.3,650.4 L415.3,650.3 L418.3,650.3 L421.3,650.3 L424.3,650.3 L427.3,650.3 L430.3,650.3 L433.3,650.3 L436.3,650.2 L439.3,650.2 L442.3,650.2 L445.3,650.2 L448.3,650.2 L451.3,650.2 L454.3,650.2 L457.3,650.1 L460.3,650.1 L463.3,650.1 L466.3,650.1 L469.3,650.1 L472.3,650.1 L475.3,650.0 L478.3,650.0 L481.3,650.0 L484.3,650.0 L487.3,650.0 L490.3,650.0 L493.3,650.0 L496.3,650.0 L499.3,650.0 L502.3,650.0 L505.3,650.0 L508.3,650.0 L511.3,650.0 L514.3,650.0 L517.3,650.0 L520.3,650.0 L523.3,650.0 L526.3,650.0 L529.3,650.0 L532.3,650.0 L535.3,650.0 L538.3,650.0 L541.3,650.0 L544.3,650.0 L547.3,650.0 L550.3,650.0 L553.3,650.0 L556.3,650.0 L559.3,650.0 L562.3,650.0 L565.3,650.0 L568.3,650.0 L571.3,650.0 L574.3,650.0 L577.3,650.0 L580.3,650.0 L583.3,650.0 L586.3,650.0 L589.3,650.0 L592.3,650.0 L595.3,650.0 L598.3,650.0 L601.3,650.0 L604.3,650.0 L607.3,650.0 L610.3,650.0 L613.3,650.0 L616.3,650.0 L619.3,650.0 L622.3,650.0 L625.3,650.0 L628.3,650.0 L631.3,650.0 L634.3,650.0 L637.3,650.0 L640.3,650.1 L643.3,650.1 L646.3,650.1 L649.3,650.1 L652.3,650.1 L655.3,650.1 L658.3,650.1 L661.3,650.1 L664.3,650.1 L667.3,650.1 L670.3,650.1 L673.3,650.1 L676.3,650.1 L679.3,650.2 L682.3,650.2 L685.3,650.2 L688.3,650.2 L691.3,650.2 L694.3,650.2 L697.3,650.2 L700.3,650.2 L703.3,650.2 L706.3,650.2 L709.3,650.2 L712.3,650.2 L715.3,650.2 L718.3,650.3 L721.3,650.3 L724.3,650.3 L727.3,650.3 L730.3,650.3 L733.3,650.3 L736.3,650.3 L739.3,650.3 L742.3,650.3 L745.3,650.3 L748.3,650.3 L751.3,650.3 L754.3,650.3 L757.3,650.4 L760.3,650.4 L763.3,650.4 L766.3,650.4 L769.3,650.4 L772.3,650.4 L775.3,650.4 L778.3,650.4 L781.3,650.4 L784.3,650.4 L787.3,650.4 L790.3,650.4 L793.3,650.4 L796.3,650.5 L799.3,650.5 L802.3,650.5 L805.3,650.5 L808.3,650.5 L811.3,650.5 L814.3,650.5 L817.3,650.5" fill="none" stroke="#000" stroke-width="5.8" stroke-linejoin="round" stroke-linecap="butt" clip-path="url(#plotclip)"/>
<path d="M898.3,650.7 L901.3,650.7 L904.3,650.7 L907.3,650.7 L910.3,650.8 L913.3,650.8 L916.3,650.8 L919.3,650.8 L922.3,650.8 L925.3,650.8 L928.3,650.8 L928.3,650.8" fill="none" stroke="#000" stroke-width="5.8" stroke-linejoin="round" stroke-linecap="butt" clip-path="url(#plotclip)"/>
<text transform="translate(240.55,48.30) scale(0.3485,0.3923)" font-family="Liberation Serif" font-weight="bold" font-size="100" stroke="#000" stroke-width="0" vector-effect="non-scaling-stroke">I</text>
<text transform="translate(254.54,55.20) scale(0.3815,0.4000)" font-family="Liberation Serif" font-weight="bold" font-size="100" stroke="#000" stroke-width="0" vector-effect="non-scaling-stroke">D</text>
<rect x="301.20" y="39.20" width="23.60" height="3.40" fill="#000"/>
<text transform="translate(347.04,48.50) scale(0.3614,0.4000)" font-family="Liberation Serif" font-weight="bold" font-size="100" stroke="#000" stroke-width="0" vector-effect="non-scaling-stroke">V</text>
<text transform="translate(373.44,55.20) scale(0.3803,0.4046)" font-family="Liberation Serif" font-weight="bold" font-size="100" stroke="#000" stroke-width="0" vector-effect="non-scaling-stroke">DS</text>
<text transform="translate(446.32,45.49) scale(0.3962,0.3433)" font-family="Liberation Serif" font-weight="bold" font-size="100" stroke="#000" stroke-width="0" vector-effect="non-scaling-stroke">(</text>
<text transform="translate(459.01,48.20) scale(0.3461,0.3908)" font-family="Liberation Serif" font-weight="bold" font-size="100" stroke="#000" stroke-width="0" vector-effect="non-scaling-stroke">LOW</text>
<text transform="translate(559.44,48.20) scale(0.3573,0.3908)" font-family="Liberation Serif" font-weight="bold" font-size="100" stroke="#000" stroke-width="0" vector-effect="non-scaling-stroke">VOLTAGE</text>
<text transform="translate(753.09,48.20) scale(0.3557,0.3908)" font-family="Liberation Serif" font-weight="bold" font-size="100" stroke="#000" stroke-width="0" vector-effect="non-scaling-stroke">REGION</text>
<text transform="translate(897.67,45.59) scale(0.3769,0.3433)" font-family="Liberation Serif" font-weight="bold" font-size="100" stroke="#000" stroke-width="0" vector-effect="non-scaling-stroke">)</text>
<text transform="translate(173.33,82.61) scale(0.3148,0.3052)" font-family="Liberation Serif" font-weight="bold" font-size="100" stroke="#000" stroke-width="0.35" vector-effect="non-scaling-stroke">8</text>
<text transform="translate(172.56,234.78) scale(0.3398,0.3216)" font-family="Liberation Serif" font-weight="bold" font-size="100" stroke="#000" stroke-width="0.35" vector-effect="non-scaling-stroke">6</text>
<text transform="translate(172.67,386.62) scale(0.3011,0.3085)" font-family="Liberation Serif" font-weight="bold" font-size="100" stroke="#000" stroke-width="0.35" vector-effect="non-scaling-stroke">4</text>
<text transform="translate(171.09,538.93) scale(0.3202,0.2962)" font-family="Liberation Serif" font-weight="bold" font-size="100" stroke="#000" stroke-width="0.35" vector-effect="non-scaling-stroke">2</text>
<text transform="translate(170.38,685.21) scale(0.3250,0.3082)" font-family="Liberation Serif" font-weight="bold" font-size="100" stroke="#000" stroke-width="0.35" vector-effect="non-scaling-stroke">0</text>
<text transform="translate(178.99,716.61) scale(0.3464,0.3082)" font-family="Liberation Serif" font-weight="bold" font-size="100" stroke="#000" stroke-width="0.35" vector-effect="non-scaling-stroke">0</text>
<text transform="translate(324.90,716.62) scale(0.3095,0.3038)" font-family="Liberation Serif" font-weight="bold" font-size="100" stroke="#000" stroke-width="0.35" vector-effect="non-scaling-stroke">1</text>
<text transform="translate(475.30,715.93) scale(0.3440,0.2977)" font-family="Liberation Serif" font-weight="bold" font-size="100" stroke="#000" stroke-width="0.35" vector-effect="non-scaling-stroke">2</text>
<text transform="translate(622.89,716.63) scale(0.2965,0.2963)" font-family="Liberation Serif" font-weight="bold" font-size="100" stroke="#000" stroke-width="0.35" vector-effect="non-scaling-stroke">3</text>
<text transform="translate(773.07,716.62) scale(0.3011,0.3085)" font-family="Liberation Serif" font-weight="bold" font-size="100" stroke="#000" stroke-width="0.35" vector-effect="non-scaling-stroke">4</text>
<text transform="translate(916.85,716.91) scale(0.3321,0.3129)" font-family="Liberation Serif" font-weight="bold" font-size="100" stroke="#000" stroke-width="0.35" vector-effect="non-scaling-stroke">5</text>
<text transform="translate(271.99,776.23) scale(0.2938,0.3192)" font-family="Liberation Serif" font-weight="bold" font-size="100" stroke="#000" stroke-width="0.35" vector-effect="non-scaling-stroke">DRAIN-SOURCE</text>
<text transform="translate(511.88,776.23) scale(0.2932,0.3192)" font-family="Liberation Serif" font-weight="bold" font-size="100" stroke="#000" stroke-width="0.35" vector-effect="non-scaling-stroke">VOLTAGE</text>
<text transform="translate(688.29,776.33) scale(0.2893,0.3177)" font-family="Liberation Serif" font-weight="bold" font-size="100" stroke="#000" stroke-width="0.35" vector-effect="non-scaling-stroke">V</text>
<text transform="translate(709.15,782.33) scale(0.3143,0.3208)" font-family="Liberation Serif" font-weight="bold" font-size="100" stroke="#000" stroke-width="0.35" vector-effect="non-scaling-stroke">DS</text>
<text transform="translate(775.98,773.91) scale(0.2981,0.2628)" font-family="Liberation Serif" font-weight="bold" font-size="100" stroke="#000" stroke-width="0.35" vector-effect="non-scaling-stroke">(</text>
<text transform="translate(786.08,776.43) scale(0.2921,0.3146)" font-family="Liberation Serif" font-weight="bold" font-size="100" stroke="#000" stroke-width="0.35" vector-effect="non-scaling-stroke">V</text>
<text transform="translate(807.01,774.14) scale(0.3212,0.2661)" font-family="Liberation Serif" font-weight="bold" font-size="100" stroke="#000" stroke-width="0.35" vector-effect="non-scaling-stroke">)</text>
<text transform="rotate(-90) translate(-574.71,90.12) scale(0.2940,0.3331)" font-family="Liberation Serif" font-weight="bold" font-size="100" stroke="#000" stroke-width="0.35" vector-effect="non-scaling-stroke">DRAIN</text>
<text transform="rotate(-90) translate(-467.19,90.12) scale(0.2927,0.3331)" font-family="Liberation Serif" font-weight="bold" font-size="100" stroke="#000" stroke-width="0.35" vector-effect="non-scaling-stroke">CURRENT</text>
<text transform="rotate(-90) translate(-293.52,90.83) scale(0.2652,0.3315)" font-family="Liberation Serif" font-weight="bold" font-size="100" stroke="#000" stroke-width="0.35" vector-effect="non-scaling-stroke">I</text>
<text transform="rotate(-90) translate(-282.43,97.53) scale(0.3038,0.3131)" font-family="Liberation Serif" font-weight="bold" font-size="100" stroke="#000" stroke-width="0.35" vector-effect="non-scaling-stroke">D</text>
<text transform="rotate(-90) translate(-232.53,88.57) scale(0.3019,0.2550)" font-family="Liberation Serif" font-weight="bold" font-size="100" stroke="#000" stroke-width="0.35" vector-effect="non-scaling-stroke">(</text>
<text transform="rotate(-90) translate(-223.01,91.03) scale(0.2957,0.3238)" font-family="Liberation Serif" font-weight="bold" font-size="100" stroke="#000" stroke-width="0.35" vector-effect="non-scaling-stroke">mA</text>
<text transform="rotate(-90) translate(-176.96,88.19) scale(0.3442,0.2494)" font-family="Liberation Serif" font-weight="bold" font-size="100" stroke="#000" stroke-width="0.35" vector-effect="non-scaling-stroke">)</text>
<text transform="translate(594.16,127.83) scale(0.2837,0.3177)" font-family="Liberation Serif" font-weight="bold" font-size="100" stroke="#000" stroke-width="0.35" vector-effect="non-scaling-stroke">COMMON</text>
<text transform="translate(743.90,127.83) scale(0.2950,0.3177)" font-family="Liberation Serif" font-weight="bold" font-size="100" stroke="#000" stroke-width="0.35" vector-effect="non-scaling-stroke">SOURCE</text>
<text transform="translate(594.91,179.42) scale(0.2827,0.3223)" font-family="Liberation Serif" font-weight="bold" font-size="100" stroke="#000" stroke-width="0.35" vector-effect="non-scaling-stroke">Ta</text>
<rect x="633.80" y="165.00" width="18.60" height="3.00" fill="#000"/>
<rect x="633.80" y="172.40" width="18.60" height="3.00" fill="#000"/>
<text transform="translate(656.92,179.42) scale(0.2893,0.3223)" font-family="Liberation Serif" font-weight="bold" font-size="100" stroke="#000" stroke-width="0.35" vector-effect="non-scaling-stroke">25°C</text>
<text transform="translate(870.70,286.02) scale(0.3440,0.3022)" font-family="Liberation Serif" font-weight="bold" font-size="100" stroke="#000" stroke-width="0.35" vector-effect="non-scaling-stroke">0</text>
<text transform="translate(726.69,344.82) scale(0.2893,0.3131)" font-family="Liberation Serif" font-weight="bold" font-size="100" stroke="#000" stroke-width="0.35" vector-effect="non-scaling-stroke">V</text>
<text transform="translate(747.06,353.12) scale(0.3020,0.3192)" font-family="Liberation Serif" font-weight="bold" font-size="100" stroke="#000" stroke-width="0.35" vector-effect="non-scaling-stroke">GS</text>
<rect x="790.60" y="332.70" width="18.20" height="2.90" fill="#000"/>
<rect x="790.60" y="338.60" width="18.20" height="2.90" fill="#000"/>
<rect x="818.30" y="337.50" width="17.70" height="3.10" fill="#000"/>
<text transform="translate(839.84,345.59) scale(0.3081,0.3172)" font-family="Liberation Serif" font-weight="bold" font-size="100" stroke="#000" stroke-width="0.35" vector-effect="non-scaling-stroke">0.2V</text>
<rect x="834.40" y="396.30" width="17.90" height="3.10" fill="#000"/>
<text transform="translate(856.72,404.30) scale(0.3147,0.3127)" font-family="Liberation Serif" font-weight="bold" font-size="100" stroke="#000" stroke-width="0.35" vector-effect="non-scaling-stroke">0.4</text>
<rect x="831.00" y="451.65" width="17.10" height="3.10" fill="#000"/>
<text transform="translate(852.50,460.00) scale(0.3182,0.3127)" font-family="Liberation Serif" font-weight="bold" font-size="100" stroke="#000" stroke-width="0.35" vector-effect="non-scaling-stroke">0.6</text>
<rect x="831.00" y="503.80" width="17.80" height="3.10" fill="#000"/>
<text transform="translate(852.50,512.20) scale(0.3182,0.3142)" font-family="Liberation Serif" font-weight="bold" font-size="100" stroke="#000" stroke-width="0.35" vector-effect="non-scaling-stroke">0.8</text>
<rect x="830.30" y="550.10" width="17.80" height="3.10" fill="#000"/>
<text transform="translate(851.92,557.43) scale(0.3199,0.2978)" font-family="Liberation Serif" font-weight="bold" font-size="100" stroke="#000" stroke-width="0.35" vector-effect="non-scaling-stroke">1.0</text>
<rect x="830.30" y="587.25" width="17.20" height="3.10" fill="#000"/>
<text transform="translate(851.97,594.82) scale(0.3137,0.3022)" font-family="Liberation Serif" font-weight="bold" font-size="100" stroke="#000" stroke-width="0.35" vector-effect="non-scaling-stroke">1.2</text>
<rect x="829.80" y="625.00" width="17.70" height="3.10" fill="#000"/>
<text transform="translate(851.32,633.13) scale(0.3196,0.2978)" font-family="Liberation Serif" font-weight="bold" font-size="100" stroke="#000" stroke-width="0.35" vector-effect="non-scaling-stroke">1.4</text>
<rect x="829.80" y="656.75" width="17.70" height="3.10" fill="#000"/>
<text transform="translate(851.30,664.64) scale(0.3224,0.2934)" font-family="Liberation Serif" font-weight="bold" font-size="100" stroke="#000" stroke-width="0.35" vector-effect="non-scaling-stroke">1.6</text>
</svg></body></html>
